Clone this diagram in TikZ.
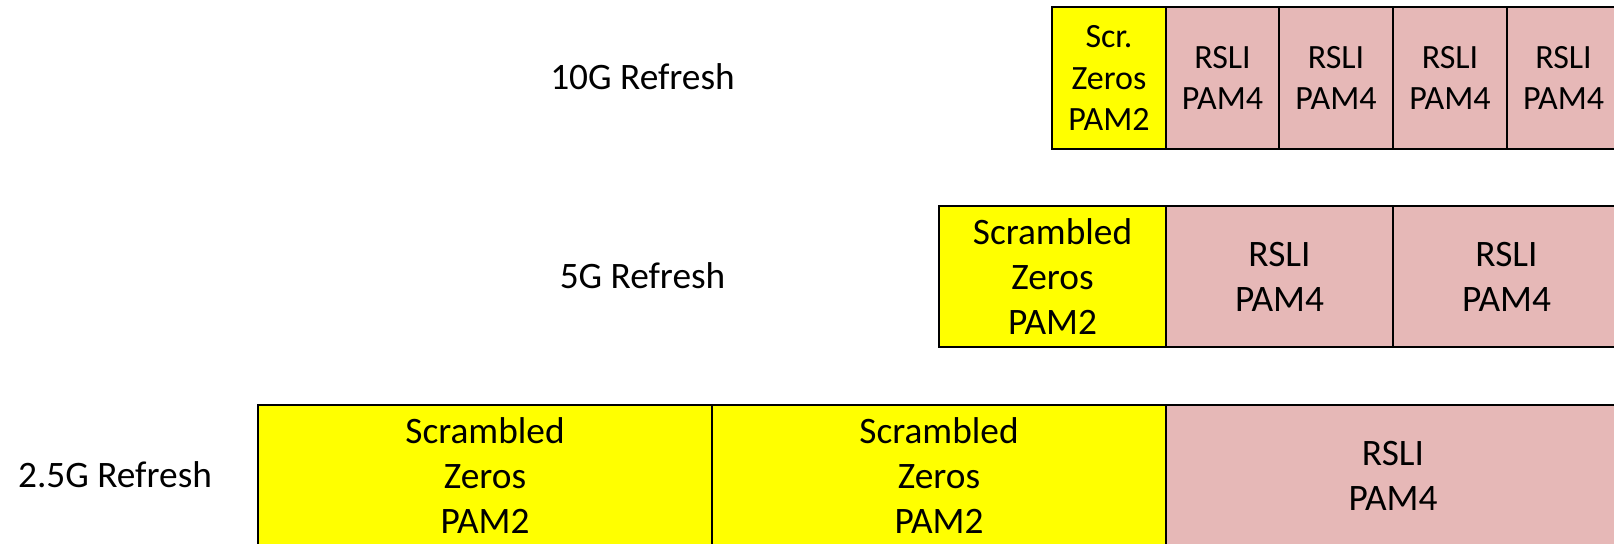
\documentclass[tikz,border=0pt]{standalone}
\usepackage{fontspec}
\setmainfont{Carlito}
\definecolor{scrzero}{HTML}{FFFF00}
\definecolor{rslipink}{HTML}{E6B8B7}
\newdimen\px \px=0.75pt
\tikzset{
  cell/.style={draw=black, line width=1.5pt, inner sep=0pt, outer sep=0pt, align=center,
    font=\fontsize{28}{33.6}\selectfont},
  pamtwo/.style={cell, fill=scrzero},
  pamfour/.style={cell, fill=rslipink},
  narrow/.style={minimum width=114\px, minimum height=142\px, font=\fontsize{25.5}{31}\selectfont},
  mid/.style={minimum width=227\px, minimum height=141\px},
  wide/.style={minimum width=454\px, minimum height=141\px},
  rowlabel/.style={anchor=base, inner sep=0pt, font=\fontsize{28}{33.6}\selectfont},
}

\begin{document}
\begin{tikzpicture}[x=0.75pt, y=-0.75pt]
		\useasboundingbox (0, 0) rectangle (1614, 543);
		\clip (0, 0) rectangle (1614, 543);
		
		%%%%% 10G %%%%%
		\node[rowlabel] (lbl10) at (642.5, 89) {10G Refresh};
		\node[pamtwo, narrow] (z10) at (1109, 78) {Scr.\\Zeros\\PAM2};
		\foreach \i/\cx in {a/1222.5, b/1336, c/1450, d/1563.5}
			\node[pamfour, narrow] (r10\i) at (\cx, 78) {RSLI\\PAM4};
		
		%%%%% 5G %%%%%
		\node[rowlabel] (lbl5) at (642.5, 288) {5G Refresh};
		\node[pamtwo, mid] (z5) at (1052.5, 276.5) {Scrambled\\Zeros\\PAM2};
		\node[pamfour, mid] (r5a) at (1279.5, 276.5) {RSLI\\PAM4};
		\node[pamfour, mid] (r5b) at (1506.5, 276.5) {RSLI\\PAM4};
		
		%%%%% 2.5G %%%%%
		\node[rowlabel] (lbl25) at (115, 487) {2.5G Refresh};
		\node[pamtwo, wide] (z25a) at (485, 475.5) {Scrambled\\Zeros\\PAM2};
		\node[pamtwo, wide] (z25b) at (939, 475.5) {Scrambled\\Zeros\\PAM2};
		\node[pamfour, wide] (r25) at (1393, 475.5) {RSLI\\PAM4};
	\end{tikzpicture}
\end{document}
